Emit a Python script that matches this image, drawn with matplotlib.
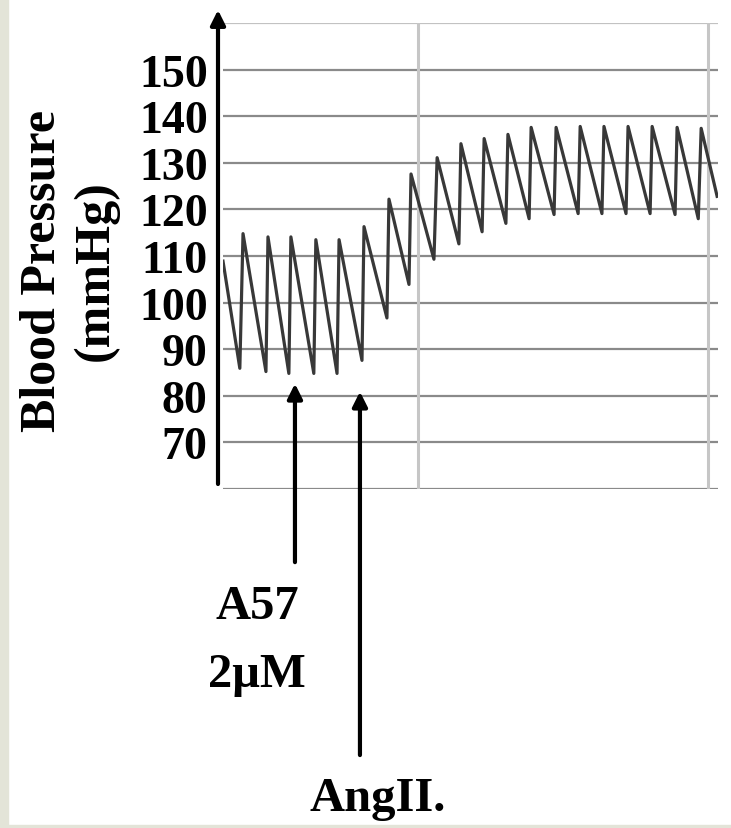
import matplotlib.pyplot as plt
from matplotlib.patches import Rectangle

# Pressure trace, time in minutes (grid every minute)
t_start, p_start = 0.328, 108.9
trough_t = [0.386, 0.476, 0.555, 0.641, 0.721, 0.807, 0.893, 0.969, 1.055, 1.141,
            1.221, 1.303, 1.383, 1.469, 1.552, 1.634, 1.717, 1.800, 1.886, 1.966]
trough_p = [85.9, 85.2, 84.8, 84.8, 84.8, 87.6, 96.7, 103.9, 109.3, 112.6,
            115.2, 117.0, 118.0, 118.9, 119.1, 119.1, 119.1, 119.1, 118.9, 118.0]
peak_t = [0.397, 0.483, 0.562, 0.648, 0.728, 0.814, 0.900, 0.976, 1.066, 1.148,
          1.228, 1.310, 1.390, 1.476, 1.559, 1.641, 1.724, 1.807, 1.893, 1.976]
peak_p = [114.8, 114.1, 114.1, 113.5, 113.5, 116.3, 122.2, 127.6, 131.1, 134.1,
          135.2, 136.1, 137.6, 137.6, 137.8, 137.8, 137.8, 137.8, 137.6, 137.4]
t_end, p_end = 2.031, 122.8

yticks = [70, 80, 90, 100, 110, 120, 130, 140, 150]
ygrid = [60, 70, 80, 90, 100, 110, 120, 130, 140, 150, 160]
xgrid = [1.0, 2.0]

# drug additions: label, time, arrow tip pressure, arrow tail pressure
event_labels = [["A57", "2\u03bcM"], ["AngII."]]
event_t = [0.576, 0.800]
event_tip = [82.6, 80.9]
event_tail = [44.3, 2.9]

t = [t_start]
p = [p_start]
for a, b, c, d in zip(trough_t, trough_p, peak_t, peak_p):
    t += [a, c]
    p += [b, d]
t.append(t_end)
p.append(p_end)

W, H = 731, 829
fig = plt.figure(figsize=(W / 100, H / 100), dpi=100)
fig.patches.append(Rectangle((0, 0), 8 / W, 1, transform=fig.transFigure,
                             color="#e3e4d8", zorder=0))
fig.patches.append(Rectangle((0, 0), 1, 3 / H, transform=fig.transFigure,
                             color="#e3e4d8", zorder=0))

ax = fig.add_axes([223 / W, 1 - 490 / H, (718 - 223) / W, (490 - 24) / H])
ax.set_xlim(0.328, 2.034)
ax.set_ylim(60, 160)
for s in ax.spines.values():
    s.set_visible(False)

for g in ygrid:
    col = "#c2c2c2" if g == 160 else "#8a8a8a"
    ax.axhline(g, color=col, lw=1.6, zorder=1)
for g in xgrid:
    ax.axvline(g, color="#c6c6c6", lw=2.2, zorder=1)

ax.plot(t, p, color="#383838", lw=2.3, zorder=3)

serif = "Liberation Serif"
ax.set_xticks([])
ax.set_yticks(yticks)
ax.set_yticklabels([str(v) for v in yticks], fontfamily=serif,
                   fontweight="bold", fontsize=33)
ax.tick_params(axis="y", length=0, pad=11)

# vertical axis with arrow head
ax.annotate("", xy=(218, H - 11), xytext=(218, H - 485),
            xycoords="figure pixels", textcoords="figure pixels",
            arrowprops=dict(arrowstyle="-|>", lw=3, color="black",
                            mutation_scale=22, shrinkA=0, shrinkB=0))

fig.text(69 / W, 1 - 271 / H, "Blood Pressure\n(mmHg)", rotation=90,
         ha="center", va="center", fontfamily=serif, fontweight="bold",
         fontsize=36, linespacing=1.2)

for lab, et, tip, tail in zip(event_labels, event_t, event_tip, event_tail):
    ax.annotate("", xy=(et, tip), xytext=(et, tail),
                arrowprops=dict(arrowstyle="-|>", lw=3, color="black",
                                mutation_scale=22, shrinkA=0, shrinkB=0),
                annotation_clip=False)

# event captions
fig.text(257 / W, 1 - 607 / H, event_labels[0][0], ha="center", va="center",
         fontfamily=serif, fontweight="bold", fontsize=35)
fig.text(257 / W, 1 - 675 / H, event_labels[0][1], ha="center", va="center",
         fontfamily=serif, fontweight="bold", fontsize=35)
fig.text(378 / W, 1 - 799 / H, event_labels[1][0], ha="center", va="center",
         fontfamily=serif, fontweight="bold", fontsize=35)

fig.savefig("out.png", dpi=100)
